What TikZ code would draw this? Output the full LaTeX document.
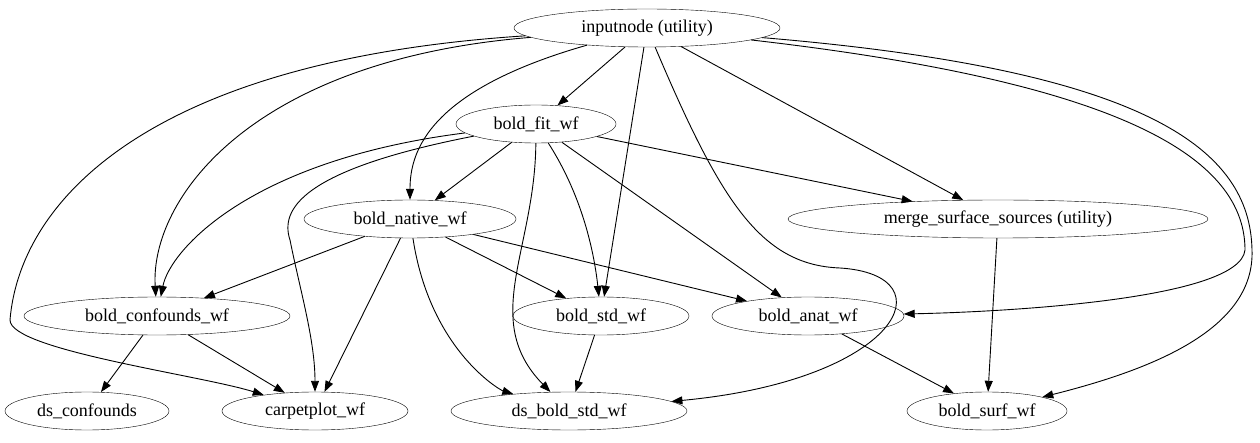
\documentclass[tikz,border=0pt]{standalone}
\usepackage{fontspec}
\setmainfont{Liberation Serif}
\usetikzlibrary{shapes.geometric,arrows.meta}
\begin{document}
\begin{tikzpicture}[x=1pt,y=-1pt,
  n/.style={draw,ellipse,inner sep=0pt,minimum height=38pt,font=\fontsize{18}{20}\selectfont},
  e/.style={draw,line width=0.9pt,-{Triangle[length=11pt,width=8pt]}}]
\useasboundingbox (0,0) rectangle (1260,443);
\node[n,minimum width=266pt] (in) at (647,28) {inputnode (utility)};
\node[n,minimum width=160pt] (fit) at (536,124) {bold\_fit\_wf};
\node[n,minimum width=212pt] (nat) at (410,219) {bold\_native\_wf};
\node[n,minimum width=420pt] (mer) at (998,219) {merge\_surface\_sources (utility)};
\node[n,minimum width=266pt] (con) at (157,316) {bold\_confounds\_wf};
\node[n,minimum width=176pt] (std) at (601,316) {bold\_std\_wf};
\node[n,minimum width=192pt] (ana) at (808,316) {bold\_anat\_wf};
\node[n,minimum width=164pt] (dsc) at (87,411) {ds\_confounds};
\node[n,minimum width=186pt] (car) at (315,411) {carpetplot\_wf};
\node[n,minimum width=236pt] (dss) at (569,411) {ds\_bold\_std\_wf};
\node[n,minimum width=160pt] (sur) at (987,411) {bold\_surf\_wf};
\begin{scope}[every path/.style={e}]
\path (in) -- (fit);
\path (in) .. controls (430,90) and (410,150) .. (nat);
\path (in) -- (std);
\path (in) -- (mer);
\path (in) .. controls (250,60) and (150,200) .. (con);
\path (in) .. controls (150,60) and (20,200) .. (10,320) .. controls (10,350) and (200,375) .. (car);
\path (in) .. controls (720,200) and (760,265) .. (840,268) .. controls (950,275) and (900,380) .. (dss);
\path (in) .. controls (1100,80) and (1245,150) .. (1245,250) .. controls (1240,300) and (1000,312) .. (ana);
\path (in) .. controls (1150,70) and (1250,150) .. (1252,250) .. controls (1255,330) and (1150,370) .. (sur);
\path (fit) -- (nat);
\path (fit) .. controls (250,160) and (170,250) .. (con);
\path (fit) .. controls (300,170) and (280,210) .. (290,240) .. controls (300,290) and (315,340) .. (car);
\path (fit) .. controls (535,250) and (480,320) .. (dss);
\path (fit) .. controls (585,200) and (595,260) .. (std);
\path (fit) -- (ana);
\path (fit) -- (mer);
\path (nat) -- (con);
\path (nat) -- (car);
\path (nat) .. controls (430,350) and (500,390) .. (dss);
\path (nat) -- (std);
\path (nat) -- (ana);
\path (con) -- (dsc);
\path (con) -- (car);
\path (std) -- (dss);
\path (ana) -- (sur);
\path (mer) -- (sur);
\end{scope}
\end{tikzpicture}
\end{document}
